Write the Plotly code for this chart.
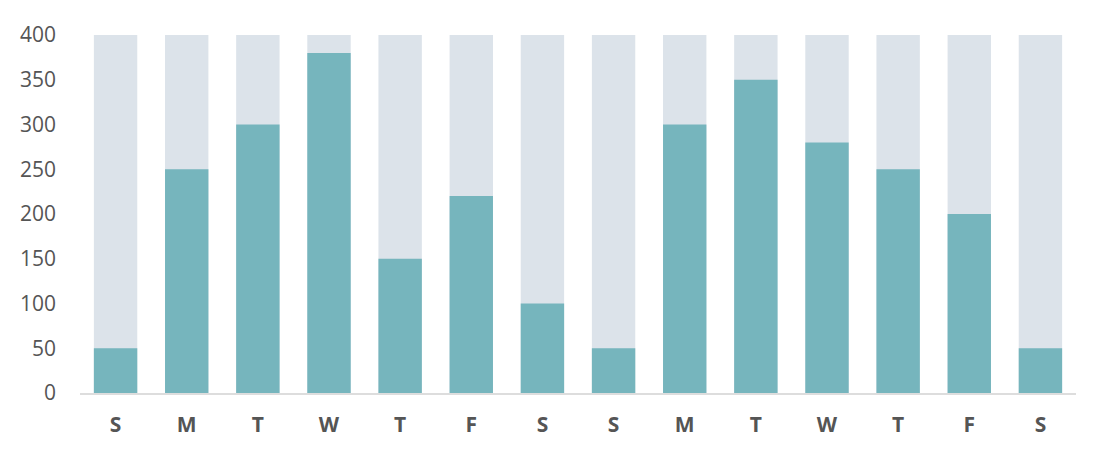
import plotly.graph_objects as go

day_labels = ["S", "M", "T", "W", "T", "F", "S", "S", "M", "T", "W", "T", "F", "S"]
values = [50, 250, 300, 380, 150, 220, 100, 50, 300, 350, 280, 250, 200, 50]
max_values = [400] * len(values)
y_ticks = [0, 50, 100, 150, 200, 250, 300, 350, 400]

x = list(range(len(day_labels)))

fig = go.Figure()
fig.add_trace(go.Bar(x=x, y=max_values, marker=dict(color="#dce3ea", line=dict(width=0)),
                     width=0.61, hoverinfo="skip", showlegend=False))
fig.add_trace(go.Bar(x=x, y=values, marker=dict(color="#76b5bd", line=dict(width=0)),
                     width=0.61, showlegend=False))

fig.update_layout(
    width=1096, height=442,
    barmode="overlay",
    plot_bgcolor="white", paper_bgcolor="white",
    margin=dict(l=68, r=28, t=24, b=56),
    font=dict(family="Open Sans", color="#555555"),
    xaxis=dict(
        tickmode="array", tickvals=x, ticktext=day_labels,
        range=[-0.5, len(x) - 0.5],
        tickfont=dict(family="Open Sans", size=21, color="#555555", weight="bold"),
        showgrid=False, zeroline=False,
        showline=True, linecolor="#dddddd", linewidth=2,
        ticks="", ticklabelstandoff=12,
    ),
    yaxis=dict(
        range=[0, 400], tickvals=y_ticks,
        tickfont=dict(family="Open Sans", size=21, color="#555555"),
        showgrid=False, zeroline=False, showline=False,
        ticks="", ticklabelstandoff=23,
    ),
)

fig.write_html("out.html")
